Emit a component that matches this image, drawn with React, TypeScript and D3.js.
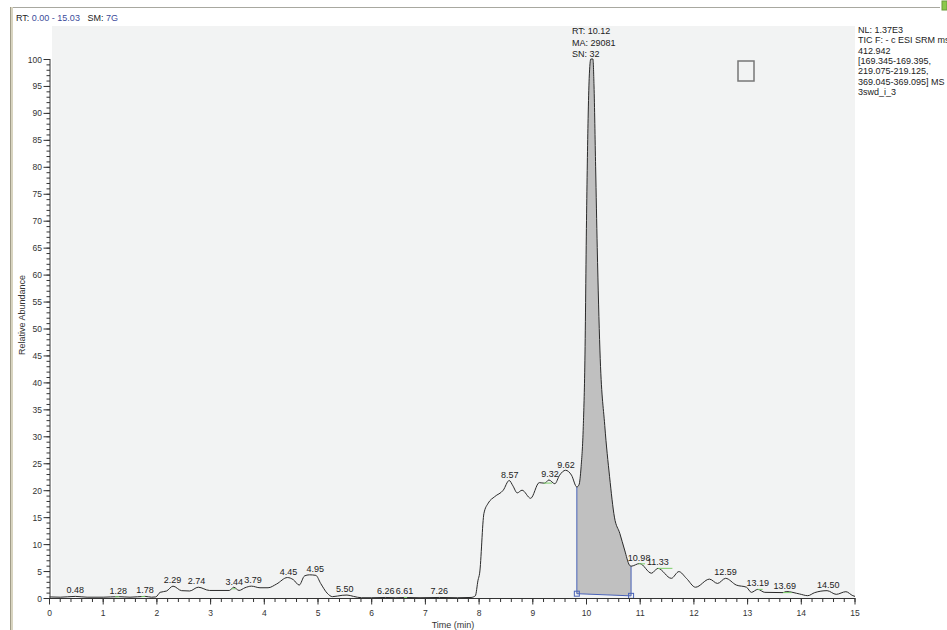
import React from 'react'
import * as d3 from 'd3'

// chromatogram trace
const times = [0, 0.2, 0.48, 0.7, 1.0, 1.28, 1.5, 1.78, 1.9, 1.98, 2.06, 2.18, 2.30, 2.46, 2.61, 2.77, 2.98, 3.35, 3.43, 3.53, 3.64, 3.76, 3.92, 4.07, 4.23, 4.43, 4.54, 4.65, 4.75, 4.84, 4.96, 5.05, 5.17, 5.27, 5.45, 5.54, 5.66, 5.81, 6.0, 6.26, 6.45, 6.61, 6.9, 7.26, 7.6, 7.85, 7.93, 7.98, 8.01, 8.09, 8.17, 8.29, 8.45, 8.56, 8.63, 8.71, 8.80, 8.96, 9.12, 9.22, 9.30, 9.41, 9.50, 9.61, 9.72, 9.82, 9.86, 9.90, 9.94, 9.97, 10.0, 10.03, 10.05, 10.08, 10.12, 10.14, 10.17, 10.20, 10.25, 10.34, 10.43, 10.52, 10.62, 10.71, 10.80, 10.83, 10.99, 11.21, 11.33, 11.58, 11.72, 11.86, 12.03, 12.29, 12.44, 12.59, 12.79, 12.98, 13.07, 13.19, 13.32, 13.66, 13.72, 13.97, 14.12, 14.25, 14.48, 14.65, 14.83, 14.96, 15.0]
const abundance = [0.2, 0.15, 0.3, 0.15, 0.15, 0.25, 0.15, 0.3, 0.15, 0.2, 1.05, 1.3, 2.2, 1.36, 1.3, 2.0, 1.4, 1.4, 2.0, 1.4, 1.9, 2.2, 1.9, 1.9, 2.6, 3.8, 3.4, 2.4, 4.1, 4.3, 4.2, 2.7, 0.9, 0.25, 0.5, 0.55, 0.3, 0.05, 0.05, 0.1, 0.05, 0.1, 0.05, 0.1, 0.05, 0.1, 0.4, 3.3, 4.6, 15.7, 17.6, 18.8, 20.0, 21.8, 20.8, 19.5, 20.0, 18.5, 21.4, 21.3, 21.9, 21.2, 22.8, 23.7, 22.8, 20.6, 21.0, 24.4, 31.8, 44, 70, 89, 96.4, 100, 100, 95, 80, 65, 46, 32, 22.5, 15, 12, 8.9, 6.1, 5.9, 6.4, 4.6, 5.5, 3.65, 4.9, 3.65, 2.0, 3.5, 2.7, 3.65, 2.4, 2.0, 1.05, 1.6, 1.05, 1.0, 1.2, 0.74, 0.43, 1.0, 1.36, 0.68, 1.17, 0.43, 0.3]

// peak retention time labels
const peakTimes = [0.48, 1.28, 1.78, 2.29, 2.74, 3.44, 3.79, 4.45, 4.95, 5.50, 6.26, 6.61, 7.26, 8.57, 9.32, 9.62, 10.98, 11.33, 12.59, 13.19, 13.69, 14.50]
const peakText = ['0.48', '1.28', '1.78', '2.29', '2.74', '3.44', '3.79', '4.45', '4.95', '5.50', '6.26', '6.61', '7.26', '8.57', '9.32', '9.62', '10.98', '11.33', '12.59', '13.19', '13.69', '14.50']

// short green marks on the trace
const greenFrom = [1.22, 1.71, 3.39, 6.6, 9.2, 10.97, 11.33, 13.19, 13.66]
const greenTo = [1.3, 1.78, 3.47, 6.66, 9.36, 11.09, 11.6, 13.28, 13.82]

// integrated peak
const intStart = 9.82
const intEnd = 10.83
const baseStart = 0.8
const baseEnd = 0.4
const mainPeak = ['RT: 10.12', 'MA: 29081', 'SN: 32']

const xMajor = d3.range(0, 16, 1)
const xMinor = d3.range(0, 15.01, 0.2)
const yMajor = d3.range(0, 101, 5)
const yMinor = d3.range(0, 101, 1)

const infoLines = ['NL: 1.37E3', 'TIC F: - c ESI SRM ms2', '412.942', '[169.345-169.395,', '219.075-219.125,', '369.045-369.095]  MS', '3swd_i_3']

const FONT = '"Liberation Sans", Arial, sans-serif'

export default function App() {
    const width = 947
    const height = 630

    const x = d3.scaleLinear().domain([0, 15]).range([49.5, 855])
    const y = d3.scaleLinear().domain([0, 100]).range([598, 59])

    const data = times.map((t, i) => ({ t, v: abundance[i] }))

    const valueAt = (t) => {
        const i = d3.bisector((d) => d.t).left(data, t)
        if (i <= 0) return data[0].v
        if (i >= data.length) return data[data.length - 1].v
        const a = data[i - 1], b = data[i]
        return a.v + (b.v - a.v) * (t - a.t) / (b.t - a.t)
    }
    const peakValue = (t) => d3.max([t - 0.04, t - 0.02, t, t + 0.02, t + 0.04], valueAt)
    const base = (t) => baseStart + (baseEnd - baseStart) * (t - intStart) / (intEnd - intStart)

    const line = d3.line()
        .x((d) => x(d.t))
        .y((d) => y(d.v))
        .curve(d3.curveMonotoneX)

    const areaData = data.filter((d) => d.t >= intStart && d.t <= intEnd)
    const area = d3.area()
        .x((d) => x(d.t))
        .y0((d) => y(base(d.t)))
        .y1((d) => y(d.v))
        .curve(d3.curveMonotoneX)

    const blue = '#4a63b8'

    return (
        <div style={{ position: 'absolute', left: 0, top: 0 }}>
            <svg width={width} height={height} style={{ display: 'block', background: '#fff' }} fontFamily={FONT}>
                {/* window frame */}
                <line x1={10} x2={940} y1={7.5} y2={7.5} stroke="#a8a8a0" />
                <rect x={10} y={7} width={3} height={623} fill="#d8d4c0" />
                <line x1={10.5} x2={10.5} y1={7} y2={630} stroke="#a09c88" />
                <rect x={942} y={1} width={5} height={9} fill="#8cc84b" stroke="#6a9a3a" />

                {/* header */}
                <text x={16} y={20.5} fontSize={9} fill="#222">
                    RT: <tspan fill="#3b4a9a">0.00 - 15.03</tspan>{'\u00a0\u00a0 '}SM: <tspan fill="#3b4a9a">7G</tspan>
                </text>

                {/* plot background */}
                <rect x={52} y={26} width={803} height={572} fill="#f2f3f3" />

                {/* integrated area */}
                <path d={area(areaData)} fill="#c0c0c0" />
                <line x1={x(intStart)} x2={x(intStart)} y1={y(base(intStart))} y2={y(valueAt(intStart))} stroke={blue} />
                <line x1={x(intEnd)} x2={x(intEnd)} y1={y(base(intEnd))} y2={y(valueAt(intEnd))} stroke={blue} />
                <line x1={x(intStart)} x2={x(intEnd)} y1={y(base(intStart))} y2={y(base(intEnd))} stroke={blue} />
                <rect x={x(intStart) - 2.5} y={y(base(intStart)) - 2.5} width={5} height={5} fill="none" stroke={blue} />
                <rect x={x(intEnd) - 2.5} y={y(base(intEnd)) - 2.5} width={5} height={5} fill="none" stroke={blue} />

                {/* trace */}
                <path d={line(data)} fill="none" stroke="#2a2a2a" strokeWidth={1} />

                {greenFrom.map((t, i) => (
                    <line key={'g' + i} x1={x(t)} x2={x(greenTo[i])} y1={y(valueAt(t))} y2={y(valueAt(t))} stroke="#7ccf6a" strokeWidth={1} />
                ))}

                {/* peak labels */}
                {peakTimes.map((t, i) => (
                    <text key={'p' + i} x={x(t)} y={y(peakValue(t)) - 3} fontSize={9} textAnchor="middle" fill="#222">{peakText[i]}</text>
                ))}
                {mainPeak.map((s, i) => (
                    <text key={'m' + i} x={x(10.12) - 21} y={34 + i * 11.5} fontSize={9} fill="#222">{s}</text>
                ))}

                {/* empty box */}
                <rect x={738} y={61} width={16} height={20} fill="none" stroke="#777" strokeWidth={1.5} />

                {/* y axis */}
                <line x1={50} x2={50} y1={y(100)} y2={598} stroke="#333" />
                {yMinor.map((v) => (
                    <line key={'ym' + v} x1={46.5} x2={50} y1={y(v) + 0.5} y2={y(v) + 0.5} stroke="#333" />
                ))}
                {yMajor.map((v) => (
                    <g key={'yM' + v}>
                        <line x1={43.5} x2={50} y1={y(v) + 0.5} y2={y(v) + 0.5} stroke="#333" />
                        <text x={42} y={y(v) + 3.5} fontSize={8.5} textAnchor="end" fill="#333">{v}</text>
                    </g>
                ))}
                <text transform="translate(24.5,315) rotate(-90)" fontSize={9} textAnchor="middle" fill="#333">Relative Abundance</text>

                {/* x axis */}
                <line x1={50} x2={855} y1={598.5} y2={598.5} stroke="#333" />
                {xMinor.map((t, i) => (
                    <line key={'xm' + i} x1={x(t)} x2={x(t)} y1={598} y2={602} stroke="#333" />
                ))}
                {xMajor.map((t) => (
                    <g key={'xM' + t}>
                        <line x1={x(t)} x2={x(t)} y1={598} y2={604.5} stroke="#333" />
                        <text x={x(t)} y={616} fontSize={8.5} textAnchor="middle" fill="#333">{t}</text>
                    </g>
                ))}
                <text x={453} y={627.5} fontSize={9} textAnchor="middle" fill="#333">Time (min)</text>

                {/* info text */}
                {infoLines.map((s, i) => (
                    <text key={'i' + i} x={858} y={33 + i * 10.3} fontSize={9} fill="#222">{s}</text>
                ))}
            </svg>
        </div>
    )
}
